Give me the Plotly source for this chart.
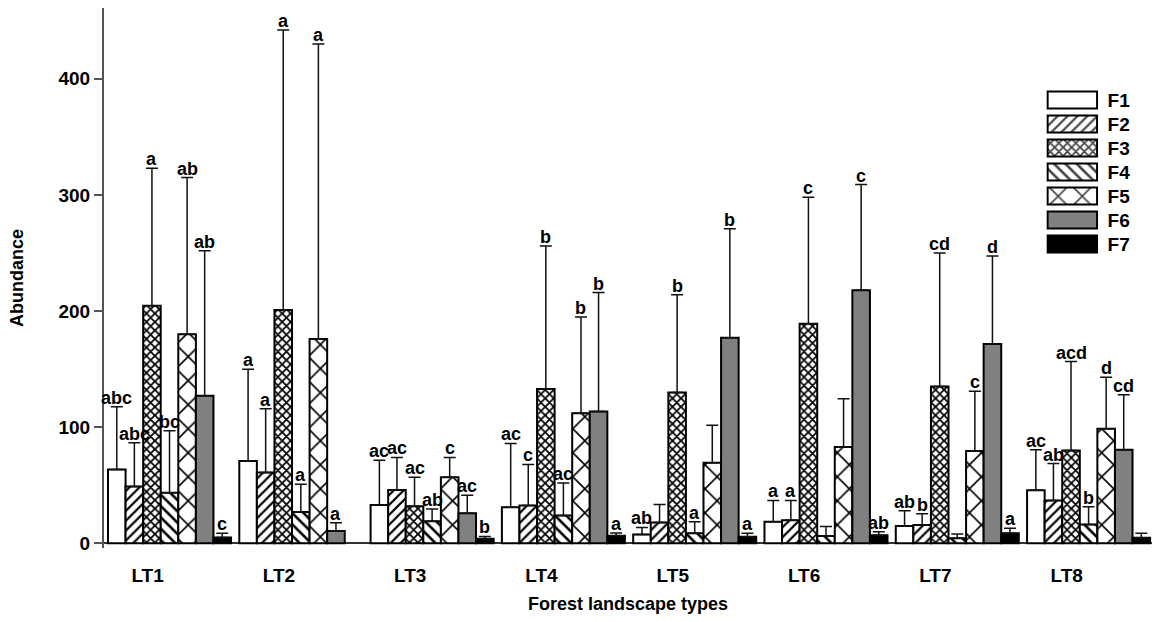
import plotly.graph_objects as go

categories = ["LT1", "LT2", "LT3", "LT4", "LT5", "LT6", "LT7", "LT8"]
series = ["F1", "F2", "F3", "F4", "F5", "F6", "F7"]

F1 = [63.5, 71, 33, 31, 7.7, 18.6, 14.9, 45.8]
F2 = [49, 61, 46, 32.6, 18, 20, 15.7, 37]
F3 = [204.6, 201, 32, 133, 130, 189, 135, 80]
F4 = [43.6, 27, 19, 24, 8.6, 6.3, 4.3, 16.3]
F5 = [180, 176, 57, 112, 69.5, 83, 79.5, 98.7]
F6 = [127, 10.7, 26, 113.5, 177, 218, 171.7, 80.7]
F7 = [5, None, 4, 6.6, 5.7, 7, 8.6, 4.9]

# upper end of the error bars (mean + SD)
F1_top = [117.6, 150, 71.5, 86, 13.7, 37, 28, 80.7]
F2_top = [86.7, 116, 74, 68, 33.5, 37, 25.5, 68.7]
F3_top = [323, 442, 57, 256, 214, 298, 250, 156.5]
F4_top = [97, 51, 29.5, 52, 18.6, 14.6, 8, 31.5]
F5_top = [315, 430, 74, 195, 101.6, 124.5, 131, 143]
F6_top = [252, 17.7, 41.5, 216, 271, 309, 247.5, 128]
F7_top = [8.6, None, 6, 9, 8.6, 10, 12.9, 8.6]

# significance letters
F1_lab = ["abc", "a", "ac", "ac", "ab", "a", "ab", "ac"]
F2_lab = ["abc", "a", "ac", "c", "", "a", "b", "ab"]
F3_lab = ["a", "a", "ac", "b", "b", "c", "cd", "acd"]
F4_lab = ["bc", "a", "ab", "ac", "a", "", "", "b"]
F5_lab = ["ab", "a", "c", "b", "", "", "c", "d"]
F6_lab = ["ab", "a", "ac", "b", "b", "c", "d", "cd"]
F7_lab = ["c", "", "b", "a", "a", "ab", "a", ""]

values = [F1, F2, F3, F4, F5, F6, F7]
tops = [F1_top, F2_top, F3_top, F4_top, F5_top, F6_top, F7_top]
labels = [F1_lab, F2_lab, F3_lab, F4_lab, F5_lab, F6_lab, F7_lab]

fills = ["white", "white", "white", "white", "white", "#808080", "black"]
shapes = ["", "/", "x", "\\", "x", "", ""]
psizes = [8, 7, 6, 8, 17, 8, 8]
psolid = [0.2, 0.32, 0.5, 0.32, 0.18, 0.2, 0.2]

FONT = "Liberation Sans, Arial, Helvetica, sans-serif"
BARGAP = 0.063
n = len(series)
w = (1 - BARGAP) / n
xs = list(range(len(categories)))

fig = go.Figure()
for j, name in enumerate(series):
    vals = values[j]
    plus = [(t - v) if (v is not None and t is not None) else None for v, t in zip(vals, tops[j])]
    fig.add_trace(go.Bar(
        x=xs, y=vals, name=name, showlegend=False,
        marker=dict(color=fills[j], line=dict(color="black", width=2),
                    pattern=dict(shape=shapes[j], size=psizes[j], solidity=psolid[j],
                                 fgcolor="black", fgopacity=1, fillmode="overlay")),
        error_y=dict(type="data", symmetric=False, array=plus,
                     arrayminus=[0] * len(xs), color="#111", thickness=1.5, width=6),
    ))

annotations = []
for j in range(n):
    for i in xs:
        lab = labels[j][i]
        if lab and tops[j][i] is not None:
            annotations.append(dict(
                x=i + (j - (n - 1) / 2) * w, y=tops[j][i], xref="x", yref="y",
                text=lab, showarrow=False, yanchor="bottom", yshift=-3,
                font=dict(family=FONT, size=18, color="black", weight="bold")))

# legend swatches drawn as a small bar chart
fig.add_trace(go.Bar(
    x=[1] * n, y=series, orientation="h", base=0, width=0.7,
    xaxis="x2", yaxis="y2", showlegend=False, hoverinfo="skip",
    marker=dict(color=fills, line=dict(color="black", width=2),
                pattern=dict(shape=shapes, size=psizes, solidity=psolid,
                             fgcolor="black", fgopacity=1, fillmode="overlay")),
))

fig.update_layout(
    width=1152, height=622,
    margin=dict(l=104, r=0, t=8, b=74),
    paper_bgcolor="white", plot_bgcolor="white",
    barmode="group", bargap=BARGAP, bargroupgap=0,
    font=dict(family=FONT, color="black"),
    annotations=annotations,
    xaxis=dict(
        range=[-0.499, 7.483], tickvals=[i - 0.167 for i in xs], ticktext=categories,
        showline=False, ticks="", showgrid=False, zeroline=False,
        tickfont=dict(family=FONT, size=19, weight="bold"), ticklabelstandoff=14,
        title=dict(text="Forest landscape types", standoff=12,
                   font=dict(family=FONT, size=18, weight="bold")),
    ),
    yaxis=dict(
        range=[-4, 461], tickvals=[0, 100, 200, 300, 400],
        ticks="outside", ticklen=8, tickwidth=1.5, tickcolor="#555",
        showline=True, linecolor="#555", linewidth=2, showgrid=False,
        zeroline=True, zerolinecolor="#333", zerolinewidth=1.5,
        tickfont=dict(family=FONT, size=19, weight="bold"),
        title=dict(text="Abundance", standoff=30,
                   font=dict(family=FONT, size=18, weight="bold")),
    ),
    xaxis2=dict(domain=[0.899, 0.949], range=[-0.03, 1.03], anchor="y2",
                visible=False, fixedrange=True),
    yaxis2=dict(domain=[0.5407, 0.8519], range=[6.5, -0.5], anchor="x2", side="right",
                showline=False, ticks="", showgrid=False, zeroline=False,
                tickfont=dict(family=FONT, size=19, weight="bold"), ticklabelstandoff=8),
)

fig.write_html("out.html")
